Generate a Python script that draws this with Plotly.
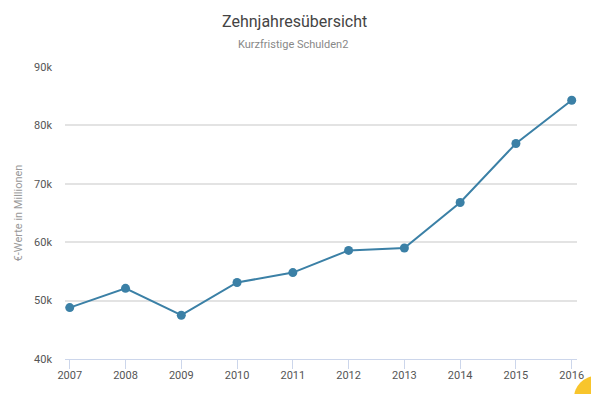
import plotly.graph_objects as go

years = [2007, 2008, 2009, 2010, 2011, 2012, 2013, 2014, 2015, 2016]
values = [48.8, 52.1, 47.5, 53.1, 54.8, 58.6, 59.0, 66.8, 76.9, 84.3]  # in thousands (k)
y_ticks = [40, 50, 60, 70, 80, 90]
y_tick_labels = ["40k", "50k", "60k", "70k", "80k", "90k"]

title = "Zehnjahresübersicht"
subtitle = "Kurzfristige Schulden2"
y_title = "€-Werte in Millionen"

FONT = "Roboto, 'Open Sans', sans-serif"
LINE_COLOR = "#3b80a6"

L, R, T, B = 65, 14, 67, 35
W, H = 591, 394
plot_w = W - L - R
plot_h = H - T - B

fig = go.Figure()
fig.add_trace(go.Scatter(
    x=years, y=values, mode="lines+markers",
    line=dict(color=LINE_COLOR, width=2),
    marker=dict(color=LINE_COLOR, size=9),
    hoverinfo="x+y", showlegend=False,
))

fig.update_layout(
    width=W, height=H,
    margin=dict(l=L, r=R, t=T, b=B, autoexpand=False),
    paper_bgcolor="white", plot_bgcolor="white",
    font=dict(family=FONT, size=11, color="#555"),
    xaxis=dict(
        range=[2006.915, 2016.095],
        tickvals=years, ticktext=[str(y) for y in years],
        showgrid=False, zeroline=False, automargin=False,
        showline=True, linecolor="#ccd6eb", linewidth=1,
        ticks="outside", ticklen=9, tickcolor="#ccd6eb", tickwidth=1,
        ticklabelstandoff=-3,
        tickfont=dict(size=11, color="#555"),
    ),
    yaxis=dict(
        range=[40, 90], automargin=False,
        tickvals=y_ticks, ticktext=y_tick_labels,
        showgrid=True, gridcolor="#e3e3e3", gridwidth=1.5,
        zeroline=False, showline=False,
        ticks="", ticklabelstandoff=12,
        tickfont=dict(size=11, color="#555"),
        title=dict(text=y_title, font=dict(size=11, color="#999"), standoff=9),
    ),
    shapes=[dict(
        type="circle", xref="paper", yref="paper",
        x0=(574 - L) / plot_w, x1=(618 - L) / plot_w,
        y0=(H - B - 420) / plot_h, y1=(H - B - 376) / plot_h,
        fillcolor="#f8c52c", line=dict(width=0), layer="above",
    )],
)

fig.add_annotation(text=title, xref="paper", yref="paper",
                   x=(294 - L) / plot_w, y=1 + (T - 21) / plot_h,
                   showarrow=False, xanchor="center", yanchor="middle",
                   font=dict(size=16, color="#444", family=FONT))
fig.add_annotation(text=subtitle, xref="paper", yref="paper",
                   x=(293 - L) / plot_w, y=1 + (T - 45) / plot_h,
                   showarrow=False, xanchor="center", yanchor="middle",
                   font=dict(size=11, color="#888", family=FONT))

fig.write_html("out.html",
               config={"displayModeBar": False},
               post_script="document.body.style.margin='0';document.body.style.overflow='hidden';")
